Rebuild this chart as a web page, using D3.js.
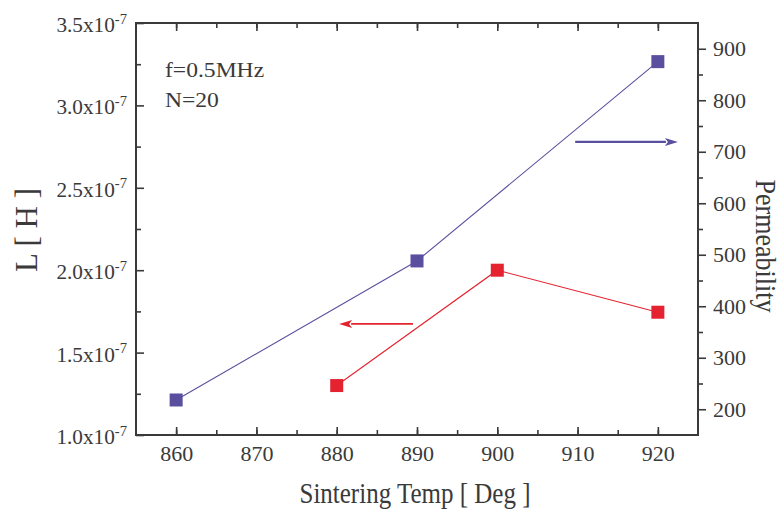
<!DOCTYPE html>
<html>
<head>
<meta charset="utf-8">
<script src="https://cdn.jsdelivr.net/npm/d3@7"></script>
<style>
  body { margin: 0; background: #fff; }
  svg { display: block; }
</style>
</head>
<body>
<svg id="chart" width="782" height="510"></svg>
<script>
// Data
const permTemps = [860, 890, 920]
const permValues = [218, 488, 875]          // right axis, Permeability
const indTemps = [880, 900, 920]
const indValues = [1.30e-7, 2.00e-7, 1.745e-7] // left axis, L [H]

const xTicks = [860, 870, 880, 890, 900, 910, 920]
const leftTicks = [1.0e-7, 1.5e-7, 2.0e-7, 2.5e-7, 3.0e-7, 3.5e-7]
const leftLabels = ["1.0", "1.5", "2.0", "2.5", "3.0", "3.5"]
const rightTicks = [200, 300, 400, 500, 600, 700, 800, 900]

// arrows pointing to each series' axis
const permArrow = [909.7, 922.5, 719]       // x from, x to, permeability
const indArrow = [889.5, 880.3, 1.674e-7]   // x from, x to, L

const notes = ["f=0.5MHz", "N=20"]

// Globals
const svg = d3.select("#chart")
const blue = "#5a4f9f"
const red = "#e5222f"
const ink = "#3a3a3a"
const serif = "Liberation Serif"
const plotL = 136, plotR = 698, plotT = 23, plotB = 435

svg.style("font-family", serif)

const x = d3.scaleLinear().domain([855, 925]).range([plotL, plotR])
const yL = d3.scaleLinear().domain([1.0e-7, 3.5e-7]).range([plotB, plotT])
const yR = d3.scaleLinear().domain([150, 950]).range([plotB, plotT])

function styleAxis(g) {
  g.attr("font-family", serif)
  g.select(".domain").remove()
  g.selectAll(".tick line").attr("stroke", ink).attr("stroke-width", 1.6)
  g.selectAll(".tick text")
    .attr("fill", ink)
    .attr("font-size", 22)
    .style("font-family", serif)
}

// minor ticks first
svg.append("g").attr("transform", `translate(0,${plotB})`)
  .call(d3.axisBottom(x).tickValues(d3.range(860, 925, 5)).tickSize(-5).tickFormat(""))
  .call(styleAxis)
svg.append("g").attr("transform", `translate(0,${plotT})`)
  .call(d3.axisTop(x).tickValues(d3.range(860, 925, 5)).tickSize(-5).tickFormat(""))
  .call(styleAxis)
svg.append("g").attr("transform", `translate(${plotL},0)`)
  .call(d3.axisLeft(yL).tickValues(d3.range(1.25e-7, 3.5e-7, 0.5e-7)).tickSize(-5).tickFormat(""))
  .call(styleAxis)
svg.append("g").attr("transform", `translate(${plotR},0)`)
  .call(d3.axisRight(yR).tickValues(d3.range(250, 950, 100)).tickSize(5).tickFormat(""))
  .call(styleAxis)

// major ticks
svg.append("g").attr("transform", `translate(0,${plotB})`)
  .call(d3.axisBottom(x).tickValues(xTicks).tickSize(-8).tickPadding(10))
  .call(styleAxis)
svg.append("g").attr("transform", `translate(0,${plotT})`)
  .call(d3.axisTop(x).tickValues(xTicks).tickSize(-8).tickFormat(""))
  .call(styleAxis)
svg.append("g").attr("transform", `translate(${plotL},0)`)
  .call(d3.axisLeft(yL).tickValues(leftTicks).tickSize(-8).tickFormat(""))
  .call(styleAxis)
svg.append("g").attr("transform", `translate(${plotR},0)`)
  .call(d3.axisRight(yR).tickValues(rightTicks).tickSize(8).tickPadding(7))
  .call(styleAxis)

// left tick labels with superscript exponent
leftTicks.forEach((v, i) => {
  let t = svg.append("text")
    .attr("transform", `translate(127,${yL(v) + 9}) scale(1.12,1.05)`)
    .attr("text-anchor", "end")
    .attr("font-size", 19)
    .attr("fill", ink)
  t.append("tspan").text(leftLabels[i] + "x10")
  t.append("tspan").attr("font-size", 13).attr("dy", -8).text("-7")
})

// frame
svg.append("rect")
  .attr("x", plotL).attr("y", plotT)
  .attr("width", plotR - plotL).attr("height", plotB - plotT)
  .attr("fill", "none").attr("stroke", ink).attr("stroke-width", 2)

// series lines
let permLine = d3.line().x(d => x(d[0])).y(d => yR(d[1]))
let indLine = d3.line().x(d => x(d[0])).y(d => yL(d[1]))

svg.append("path")
  .attr("d", permLine(d3.zip(permTemps, permValues)))
  .attr("fill", "none").attr("stroke", blue).attr("stroke-width", 1.1)
svg.append("path")
  .attr("d", indLine(d3.zip(indTemps, indValues)))
  .attr("fill", "none").attr("stroke", red).attr("stroke-width", 1.1)

// markers
let size = 13
svg.selectAll("rect.perm")
  .data(d3.zip(permTemps, permValues))
  .enter()
    .append("rect")
    .attr("class", "perm")
    .attr("x", d => x(d[0]) - size / 2)
    .attr("y", d => yR(d[1]) - size / 2)
    .attr("width", size).attr("height", size)
    .attr("fill", blue)
svg.selectAll("rect.ind")
  .data(d3.zip(indTemps, indValues))
  .enter()
    .append("rect")
    .attr("class", "ind")
    .attr("x", d => x(d[0]) - size / 2)
    .attr("y", d => yL(d[1]) - size / 2)
    .attr("width", size).attr("height", size)
    .attr("fill", red)

// arrows
function arrow(x0, x1, y, color, width) {
  let dir = Math.sign(x1 - x0)
  let head = 13
  svg.append("line")
    .attr("x1", x0).attr("x2", x1 - dir * head + dir)
    .attr("y1", y).attr("y2", y)
    .attr("stroke", color).attr("stroke-width", width)
  svg.append("path")
    .attr("d", `M${x1},${y} L${x1 - dir * head},${y - 4} L${x1 - dir * (head - 3)},${y} L${x1 - dir * head},${y + 4} Z`)
    .attr("fill", color)
}
arrow(x(permArrow[0]), x(permArrow[1]), yR(permArrow[2]), blue, 2.2)
arrow(x(indArrow[0]), x(indArrow[1]), yL(indArrow[2]), red, 1.6)

// notes
notes.forEach((n, i) => {
  svg.append("text")
    .attr("transform", `translate(165,${77 + i * 30}) scale(1.18,1)`)
    .attr("font-size", 20)
    .attr("fill", ink)
    .text(n)
})

// axis titles
svg.append("text")
  .attr("transform", `translate(415,503) scale(1,1.2)`)
  .attr("text-anchor", "middle")
  .attr("font-size", 25)
  .attr("fill", ink)
  .text("Sintering Temp [ Deg ]")
svg.append("text")
  .attr("transform", `translate(37,230) rotate(-90)`)
  .attr("text-anchor", "middle")
  .attr("font-size", 31)
  .attr("fill", ink)
  .text("L [ H ]")
svg.append("text")
  .attr("transform", `translate(756,246) rotate(90) scale(1,1.1)`)
  .attr("text-anchor", "middle")
  .attr("font-size", 26)
  .attr("fill", ink)
  .text("Permeability")
</script>
</body>
</html>
